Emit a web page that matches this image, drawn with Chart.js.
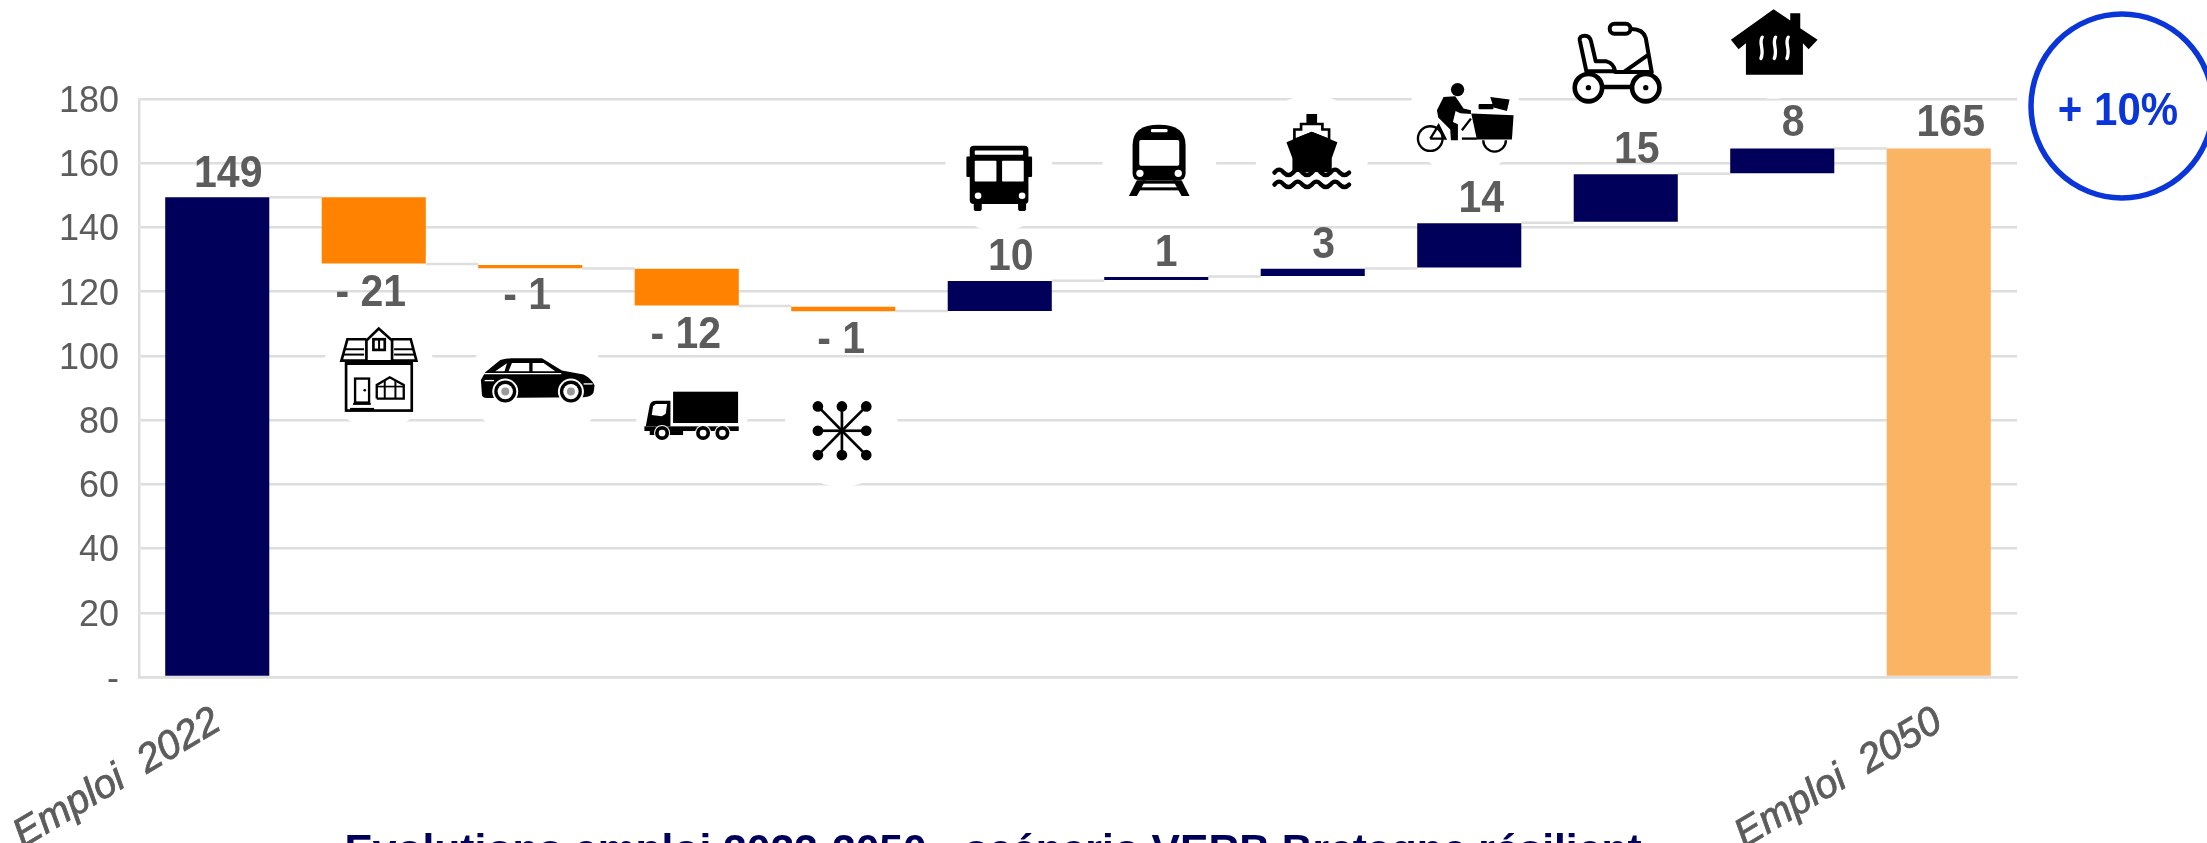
<!DOCTYPE html>
<html>
<head>
<meta charset="utf-8">
<title>Evolutions emploi 2022-2050</title>
<script src="https://cdn.jsdelivr.net/npm/chart.js@4"></script>
<style>
  html, body { margin: 0; padding: 0; background: #fff; overflow: hidden; }
  canvas { display: block; }
</style>
</head>
<body>
<canvas id="chart" width="2207" height="843"></canvas>
<script>
const categories = ['Emploi  2022', '', '', '', '', '', '', '', '', '', '', 'Emploi  2050'];
const deltas = [149, -21, -1, -12, -1, 10, 1, 3, 14, 15, 8, 165];
const barLows = [0, 128.8, 127.3, 115.7, 113.9, 114, 123.6, 124.9, 127.5, 141.8, 156.9, 0];
const barHighs = [149.4, 149.4, 128.3, 127.1, 115.3, 123.3, 124.6, 127.1, 141.3, 156.6, 164.6, 164.6];
const connectorLevels = [149.4, 128.6, 127.2, 115.5, 114, 123.4, 124.7, 127.2, 141.5, 156.7, 164.6];
const yTicks = [0, 20, 40, 60, 80, 100, 120, 140, 160, 180];

const NAVY = '#00005a';
const ORANGE = '#ff8300';
const LIGHT_ORANGE = '#fbb464';
const GREY = '#5c5c5c';
const GRID = '#dedede';
const BLUE = '#0a35d8';
const FONT = '"Liberation Sans", Arial, sans-serif';

const barColors = deltas.map((d, i) => i === 11 ? LIGHT_ORANGE : (d < 0 ? ORANGE : NAVY));
// label position relative to the bar end, in px
const labelDx = [11, -3, -3, -1, -2, 11, 10, 11, 12, 11, 11, 12];
const labelDy = [-10, 43, 41, 43, 42, -11, -11, -11, -11, -11, -12, -12];

// icon helpers: every icon is sketched in 3x units of its own little box
function poly(c, pts, fill) {
    c.beginPath();
    pts.forEach((p, i) => i ? c.lineTo(p[0], p[1]) : c.moveTo(p[0], p[1]));
    c.closePath();
    c.fillStyle = fill || '#000';
    c.fill();
}
function disc(c, x, y, r, fill) {
    c.beginPath();
    c.arc(x, y, r, 0, Math.PI * 2);
    c.fillStyle = fill || '#000';
    c.fill();
}
function rrect(c, x, y, w, h, r, fill) {
    c.beginPath();
    c.roundRect(x, y, w, h, r);
    c.fillStyle = fill || '#000';
    c.fill();
}
function line(c, pts, width, color) {
    c.beginPath();
    pts.forEach((p, i) => i ? c.lineTo(p[0], p[1]) : c.moveTo(p[0], p[1]));
    c.lineWidth = width;
    c.strokeStyle = color || '#000';
    c.stroke();
}
// reference text is a little stretched vertically
function tallText(c, text, x, y, stretch) {
    c.save();
    c.translate(x, y);
    c.scale(1, stretch);
    c.fillText(text, 0, 0);
    c.restore();
}

const iconDrawers = {
    house(c) {
        c.lineJoin = 'miter';
        line(c, [[95, 58], [38, 58], [20, 122], [245, 122], [228, 58], [170, 58]], 8);
        poly(c, [[95, 120], [95, 62], [132, 26], [172, 62], [172, 120]], '#fff');
        line(c, [[95, 120], [95, 62], [132, 26], [172, 62], [172, 120]], 8);
        c.lineWidth = 8; c.strokeStyle = '#000';
        c.strokeRect(116, 58, 34, 32);
        line(c, [[133, 58], [133, 90]], 6);
        line(c, [[28, 88], [88, 88]], 6);
        line(c, [[178, 88], [236, 88]], 6);
        line(c, [[26, 104], [88, 104]], 6);
        line(c, [[178, 104], [238, 104]], 6);
        c.lineWidth = 8;
        c.strokeRect(34, 128, 197, 144);
        line(c, [[34, 132], [231, 132]], 6);
        c.lineWidth = 7;
        c.strokeRect(61, 176, 42, 72);
        disc(c, 90, 211, 4);
        line(c, [[55, 252], [108, 252]], 6);
        line(c, [[46, 268], [118, 268]], 8);
        line(c, [[126, 236], [126, 195], [165, 172], [207, 195], [207, 236], [126, 236]], 7);
        line(c, [[150, 182], [150, 236]], 6);
        line(c, [[182, 182], [182, 236]], 6);
        line(c, [[126, 200], [207, 200]], 5);
    },
    car(c) {
        c.beginPath();
        c.moveTo(440, 222);
        c.lineTo(437, 178);
        c.lineTo(450, 155);
        c.lineTo(495, 118);
        c.quadraticCurveTo(510, 113, 530, 113);
        c.lineTo(620, 113);
        c.lineTo(680, 150);
        c.lineTo(745, 162);
        c.quadraticCurveTo(770, 175, 778, 195);
        c.lineTo(775, 215);
        c.quadraticCurveTo(770, 228, 745, 230);
        c.lineTo(455, 232);
        c.quadraticCurveTo(440, 232, 440, 222);
        c.fillStyle = '#000';
        c.fill();
        poly(c, [[480, 152], [515, 128], [508, 152]], '#fff');
        poly(c, [[520, 152], [530, 127], [582, 127], [582, 152]], '#fff');
        poly(c, [[592, 127], [625, 127], [660, 152], [592, 152]], '#fff');
        line(c, [[447, 159], [678, 159]], 4, '#fff');
        line(c, [[448, 180], [476, 180]], 4, '#fff');
        line(c, [[745, 190], [772, 190]], 4, '#fff');
        [510, 707].forEach(x => {
            disc(c, x, 213, 39, '#fff');
            disc(c, x, 213, 33);
            disc(c, x, 213, 23, '#fff');
            disc(c, x, 213, 12, '#999');
        });
    },
    truck(c) {
        c.fillStyle = '#000';
        c.fillRect(100, 18, 195, 94);
        c.beginPath();
        c.moveTo(18, 122);
        c.lineTo(30, 58);
        c.quadraticCurveTo(33, 45, 50, 45);
        c.lineTo(92, 45);
        c.lineTo(92, 122);
        c.closePath();
        c.fill();
        poly(c, [[36, 88], [40, 62], [48, 55], [82, 55], [78, 84], [66, 92]], '#fff');
        c.fillStyle = '#000';
        c.fillRect(14, 122, 283, 14);
        c.fillRect(30, 136, 100, 12);
        [67, 190, 248].forEach(x => {
            disc(c, x, 142, 24, '#fff');
            disc(c, x, 142, 21);
            disc(c, x, 142, 10, '#fff');
        });
    },
    network(c) {
        const ends = [[533, 62], [605, 62], [678, 62], [533, 135], [678, 135], [533, 208], [605, 208], [678, 208]];
        ends.forEach(e => {
            line(c, [[605, 135], e], 8);
            disc(c, e[0], e[1], 16);
        });
    },
    bus(c) {
        rrect(c, 30, 108, 176, 175, 12);
        rrect(c, 20, 140, 14, 62, 3);
        rrect(c, 203, 140, 14, 62, 3);
        rrect(c, 45, 122, 145, 13, 2, '#fff');
        rrect(c, 45, 153, 65, 62, 2, '#fff');
        rrect(c, 127, 153, 65, 62, 2, '#fff');
        disc(c, 55, 258, 10, '#fff');
        disc(c, 187, 258, 10, '#fff');
        rrect(c, 42, 275, 24, 29, 8);
        rrect(c, 175, 275, 24, 29, 8);
    },
    train(c) {
        c.beginPath();
        c.moveTo(517, 190);
        c.lineTo(517, 105);
        c.quadraticCurveTo(517, 44, 596, 44);
        c.quadraticCurveTo(676, 44, 676, 105);
        c.lineTo(676, 190);
        c.quadraticCurveTo(676, 211, 655, 211);
        c.lineTo(538, 211);
        c.quadraticCurveTo(517, 211, 517, 190);
        c.fillStyle = '#000';
        c.fill();
        rrect(c, 572, 57, 50, 10, 4, '#fff');
        rrect(c, 537, 90, 120, 77, 5, '#fff');
        disc(c, 539, 190, 11, '#fff');
        disc(c, 654, 190, 11, '#fff');
        poly(c, [[530, 211], [506, 258], [530, 258], [556, 211]]);
        poly(c, [[638, 211], [664, 258], [688, 258], [664, 211]]);
        c.fillStyle = '#000';
        c.fillRect(548, 211, 98, 10);
        c.fillRect(536, 232, 120, 9);
    },
    ship(c) {
        poly(c, [[1040, 12], [1072, 12], [1072, 38], [1092, 38], [1092, 55], [1112, 55], [1112, 92], [1000, 92], [1000, 55], [1020, 55], [1020, 38], [1040, 38]]);
        poly(c, [[1008, 84], [1008, 62], [1028, 62], [1028, 46], [1084, 46], [1084, 62], [1104, 62], [1104, 84], [1056, 65]], '#fff');
        poly(c, [[980, 97], [1056, 65], [1133, 97], [1116, 145], [1116, 186], [998, 186], [998, 145]]);
        [188, 224].forEach(y => {
            c.beginPath();
            c.moveTo(944, y);
            for (let x = 944; x < 1166; x += 56) {
                c.quadraticCurveTo(x + 14, y - 18, x + 28, y);
                c.quadraticCurveTo(x + 42, y + 14, x + 56, y);
            }
            c.lineWidth = 13;
            c.lineCap = 'round';
            c.strokeStyle = '#000';
            c.stroke();
        });
    },
    bike(c) {
        disc(c, 142, 268, 20);
        poly(c, [[100, 290], [135, 288], [160, 325], [182, 330], [182, 341], [150, 339], [136, 332], [128, 365], [143, 372], [143, 420], [122, 420], [120, 388], [84, 352], [80, 330]]);
        poly(c, [[183, 340], [310, 345], [305, 418], [200, 418]]);
        rrect(c, 205, 311, 45, 16, 3);
        poly(c, [[240, 290], [298, 298], [290, 332], [250, 322]]);
        c.beginPath();
        c.arc(60, 415, 37, 0, Math.PI * 2);
        c.lineWidth = 7; c.strokeStyle = '#000';
        c.stroke();
        c.beginPath();
        c.arc(253, 420, 34, 0, Math.PI);
        c.stroke();
        line(c, [[60, 415], [105, 415], [85, 375], [60, 415]], 7);
        line(c, [[155, 415], [200, 415]], 7);
        line(c, [[155, 390], [182, 355]], 7);
    },
    scooter(c) {
        c.lineJoin = 'round';
        c.lineCap = 'round';
        [536, 708].forEach(x => {
            c.beginPath();
            c.arc(x, 264, 41, 0, Math.PI * 2);
            c.lineWidth = 14; c.strokeStyle = '#000';
            c.stroke();
            disc(c, x, 264, 8);
        });
        c.beginPath();
        c.moveTo(530, 215);
        c.lineTo(510, 122);
        c.quadraticCurveTo(508, 108, 525, 108);
        c.quadraticCurveTo(540, 108, 544, 125);
        c.lineTo(558, 185);
        c.lineTo(590, 185);
        c.quadraticCurveTo(612, 190, 616, 215);
        c.closePath();
        c.lineWidth = 12;
        c.stroke();
        line(c, [[616, 217], [722, 217]], 12);
        line(c, [[645, 215], [712, 168]], 12);
        c.beginPath();
        c.moveTo(726, 218);
        c.lineTo(708, 115);
        c.quadraticCurveTo(700, 88, 665, 88);
        c.lineWidth = 12;
        c.stroke();
        c.beginPath();
        c.roundRect(600, 72, 62, 30, 14);
        c.stroke();
        line(c, [[580, 262], [665, 262]], 13);
    },
    heat(c) {
        poly(c, [[962, 120], [1090, 28], [1140, 62], [1140, 40], [1170, 40], [1170, 85], [1222, 120], [1195, 148], [1178, 130], [1178, 225], [1007, 225], [1007, 130], [985, 148]]);
        c.lineCap = 'round';
        [1052, 1092, 1130].forEach(x => {
            c.beginPath();
            c.moveTo(x + 4, 112);
            c.bezierCurveTo(x - 8, 130, x + 12, 150, x, 176);
            c.lineWidth = 10;
            c.strokeStyle = '#fff';
            c.stroke();
        });
    }
};

// cat: category index, level: y value of the icon centre, r: white halo radius,
// sx/sy: shift from the halo centre to the sketch box origin
const icons = [
    { name: 'house', cat: 1, dx: 5, level: 94.7, r: 56, sx: -44, sy: -53 },
    { name: 'car', cat: 2, dx: 7, level: 92, r: 66, sx: -202, sy: -61 },
    { name: 'truck', cat: 3, dx: 5, level: 82, r: 56, sx: -52, sy: -28 },
    { name: 'network', cat: 4, dx: -2, level: 77, r: 57, sx: -201, sy: -44 },
    { name: 'bus', cat: 5, dx: -1, level: 155.8, r: 55, sx: -39, sy: -67 },
    { name: 'train', cat: 6, dx: 3, level: 161, r: 57, sx: -199, sy: -50 },
    { name: 'ship', cat: 7, dx: -1, level: 163.5, r: 57, sx: -352, sy: -42 },
    { name: 'bike', cat: 8, dx: -4, level: 174, r: 57, sx: -55, sy: -118 },
    { name: 'scooter', cat: 9, dx: -8, level: 191, r: 44, sx: -208, sy: -64 },
    { name: 'heat', cat: 10, dx: -9, level: 197.5, r: 56, sx: -363, sy: -43 }
];

const waterfallExtras = {
    id: 'waterfallExtras',
    beforeDatasetsDraw(chart) {
        const { ctx } = chart;
        const x = chart.scales.x, y = chart.scales.y;
        const bars = chart.getDatasetMeta(0).data;
        ctx.save();
        // white halos cut the grid lines behind the icons
        ctx.fillStyle = '#fff';
        icons.forEach(ic => {
            ctx.beginPath();
            ctx.arc(x.getPixelForValue(ic.cat) + ic.dx, y.getPixelForValue(ic.level), ic.r, 0, Math.PI * 2);
            ctx.fill();
        });
        ctx.strokeStyle = GRID;
        ctx.lineWidth = 2.5;
        connectorLevels.forEach((level, i) => {
            const py = y.getPixelForValue(level);
            ctx.beginPath();
            ctx.moveTo(bars[i].x + bars[i].width / 2, py);
            ctx.lineTo(bars[i + 1].x - bars[i + 1].width / 2, py);
            ctx.stroke();
        });
        ctx.restore();
    },
    afterDatasetsDraw(chart) {
        const { ctx } = chart;
        const x = chart.scales.x, y = chart.scales.y;
        const bars = chart.getDatasetMeta(0).data;
        ctx.save();
        ctx.textAlign = 'center';
        ctx.textBaseline = 'alphabetic';
        ctx.font = 'bold 41px ' + FONT;
        ctx.fillStyle = GREY;
        deltas.forEach((d, i) => {
            const edge = d < 0 ? barLows[i] : barHighs[i];
            const text = d < 0 ? '- ' + Math.abs(d) : String(d);
            tallText(ctx, text, bars[i].x + labelDx[i], y.getPixelForValue(edge) + labelDy[i], 1.08);
        });
        icons.forEach(ic => {
            ctx.save();
            ctx.translate(x.getPixelForValue(ic.cat) + ic.dx + ic.sx, y.getPixelForValue(ic.level) + ic.sy);
            ctx.scale(1 / 3, 1 / 3);
            iconDrawers[ic.name](ctx);
            ctx.restore();
        });

        // title, cut by the bottom of the picture as in the source
        ctx.fillStyle = NAVY;
        ctx.font = 'bold 42.6px ' + FONT;
        ctx.fillText('Evolutions emploi 2022-2050 - scénario VERB Bretagne résilient', 993, 863.5);

        // growth badge
        ctx.strokeStyle = BLUE;
        ctx.lineWidth = 5.5;
        ctx.beginPath();
        ctx.ellipse(2122, 106, 91, 92, 0, 0, Math.PI * 2);
        ctx.stroke();
        ctx.fillStyle = BLUE;
        ctx.font = 'bold 42px ' + FONT;
        tallText(ctx, '+ 10%', 2118, 125, 1.08);
        ctx.restore();
    }
};

new Chart(document.getElementById('chart'), {
    type: 'bar',
    data: {
        labels: categories,
        datasets: [{
            data: barLows.map((low, i) => [low, barHighs[i]]),
            backgroundColor: barColors,
            borderWidth: 0,
            categoryPercentage: 0.665,
            barPercentage: 1
        }]
    },
    plugins: [waterfallExtras],
    options: {
        responsive: false,
        animation: false,
        layout: { padding: { left: 0, right: 190, top: 99, bottom: 0 } },
        plugins: { legend: { display: false }, tooltip: { enabled: false } },
        scales: {
            x: {
                grid: { display: false },
                border: { color: GRID, width: 2.5 },
                afterFit(scale) { scale.height = 166; scale.paddingLeft = 0; scale.paddingRight = 0; },
                ticks: {
                    autoSkip: false,
                    minRotation: 31,
                    maxRotation: 31,
                    padding: 13,
                    color: GREY,
                    textStrokeColor: GREY,
                    textStrokeWidth: 0.8,
                    font: { family: FONT, size: 40, style: 'italic' }
                }
            },
            y: {
                min: 0,
                max: 180,
                afterFit(scale) { scale.width = 139; },
                afterBuildTicks(scale) { scale.ticks = yTicks.map(v => ({ value: v })); },
                grid: { color: GRID, lineWidth: 2.5, drawTicks: false },
                border: { color: GRID, width: 2.5 },
                ticks: {
                    padding: 20,
                    labelOffset: 3,
                    color: GREY,
                    font: { family: FONT, size: 36 },
                    callback: v => v === 0 ? '-' : v
                }
            }
        }
    }
});
</script>
</body>
</html>
